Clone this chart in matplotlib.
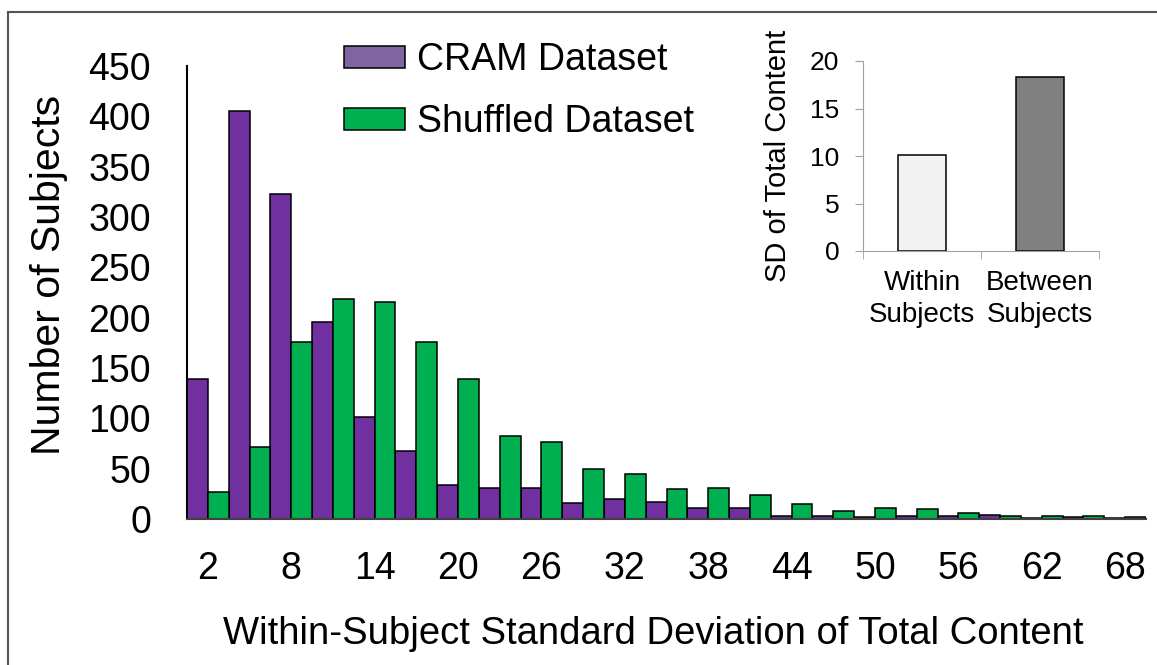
import numpy as np
import matplotlib.pyplot as plt
from matplotlib.patches import Patch
from matplotlib.lines import Line2D

plt.rcParams['font.family'] = ['Liberation Sans', 'DejaVu Sans']

# histogram bins (within-subject SD of total content)
bins = [2, 5, 8, 11, 14, 17, 20, 23, 26, 29, 32, 35, 38, 41, 44, 47, 50, 53, 56, 59, 62, 65, 68]
cram = [139, 405, 323, 196, 101, 68, 34, 31, 31, 15.5, 20, 16.5, 11, 10.5, 3.3, 3.3,
        1.7, 2.6, 2.6, 3.6, 0.7, 1.7, 0.7]
shuffled = [27, 72, 176, 219, 216, 176, 139, 82, 76, 50, 45, 29.5, 30.5, 23.5, 15, 7.6,
            11.2, 9.9, 5.6, 3.3, 3.3, 3, 2]
tick_bins = [2, 8, 14, 20, 26, 32, 38, 44, 50, 56, 62, 68]

# inset
inset_cats = ['Within\nSubjects', 'Between\nSubjects']
inset_vals = [10.15, 18.3]

purple = '#7030A0'
green = '#00B050'

fig = plt.figure(figsize=(11.57, 6.65), dpi=100)

# frame lines around figure (top and left only)
fig.add_artist(Line2D([8 / 1157, 1], [1 - 12 / 665, 1 - 12 / 665], color='#555555', lw=1.5))
fig.add_artist(Line2D([8 / 1157, 8 / 1157], [0, 1 - 12 / 665], color='#555555', lw=1.5))

ax = fig.add_axes([187 / 1157, 146 / 665, 959 / 1157, 453 / 665])
x = np.arange(len(bins))
ax.bar(x - 0.25, cram, width=0.5, color=purple, edgecolor='black', linewidth=1.1)
ax.bar(x + 0.25, shuffled, width=0.5, color=green, edgecolor='black', linewidth=1.1)

ax.set_xlim(-0.5, len(bins) - 0.5)
ax.set_ylim(0, 450)
ax.set_yticks(range(0, 451, 50))
ax.set_xticks([bins.index(b) for b in tick_bins])
ax.set_xticklabels([str(b) for b in tick_bins])
ax.tick_params(axis='both', length=0, labelsize=27)
ax.tick_params(axis='y', pad=26)
ax.tick_params(axis='x', pad=23)
for s in ['top', 'right']:
    ax.spines[s].set_visible(False)
ax.spines['left'].set_linewidth(1.5)
ax.spines['bottom'].set_linewidth(1.5)
ax.spines['bottom'].set_color('#404040')

ax.set_ylabel('Number of Subjects', fontsize=29.5)
ax.yaxis.set_label_coords(-0.124, 0.539)
ax.set_xlabel('Within-Subject Standard Deviation of Total Content', fontsize=27.5)
ax.xaxis.set_label_coords(0.486, -0.215)

handles = [Patch(facecolor='#8064A2', edgecolor='black', linewidth=1.1),
           Patch(facecolor=green, edgecolor='black', linewidth=1.1)]
ax.legend(handles, ['CRAM Dataset', 'Shuffled Dataset'], loc='upper left',
          bbox_to_anchor=(0.1637, 1.053), frameon=False, fontsize=27,
          borderpad=0, borderaxespad=0,
          handlelength=1.63, handleheight=0.53, handletextpad=0.32, labelspacing=0.7)

# inset bar chart
ins = fig.add_axes([863 / 1157, 414 / 665, 236 / 1157, 190 / 665])
ins.bar([0, 1], inset_vals, width=0.4, color=['#F2F2F2', '#808080'],
        edgecolor='black', linewidth=1.1)
ins.set_xlim(-0.5, 1.5)
ins.set_ylim(0, 20)
ins.set_yticks([0, 5, 10, 15, 20])
ins.set_xticks([0, 1])
ins.set_xticklabels(inset_cats, fontsize=20, linespacing=1.3)
ins.set_xticks([-0.5, 0.5, 1.5], minor=True)
ins.tick_params(axis='x', which='major', length=0, pad=14)
ins.tick_params(axis='x', which='minor', length=6, color='#A0A0A0')
ins.tick_params(axis='y', length=6, color='#A0A0A0', labelsize=19, pad=11)
for s in ['top', 'right']:
    ins.spines[s].set_visible(False)
ins.spines['left'].set_color('#A0A0A0')
ins.spines['bottom'].set_color('#A0A0A0')
ins.set_ylabel('SD of Total Content', fontsize=21, labelpad=13)

fig.savefig('out.png', dpi=100)
